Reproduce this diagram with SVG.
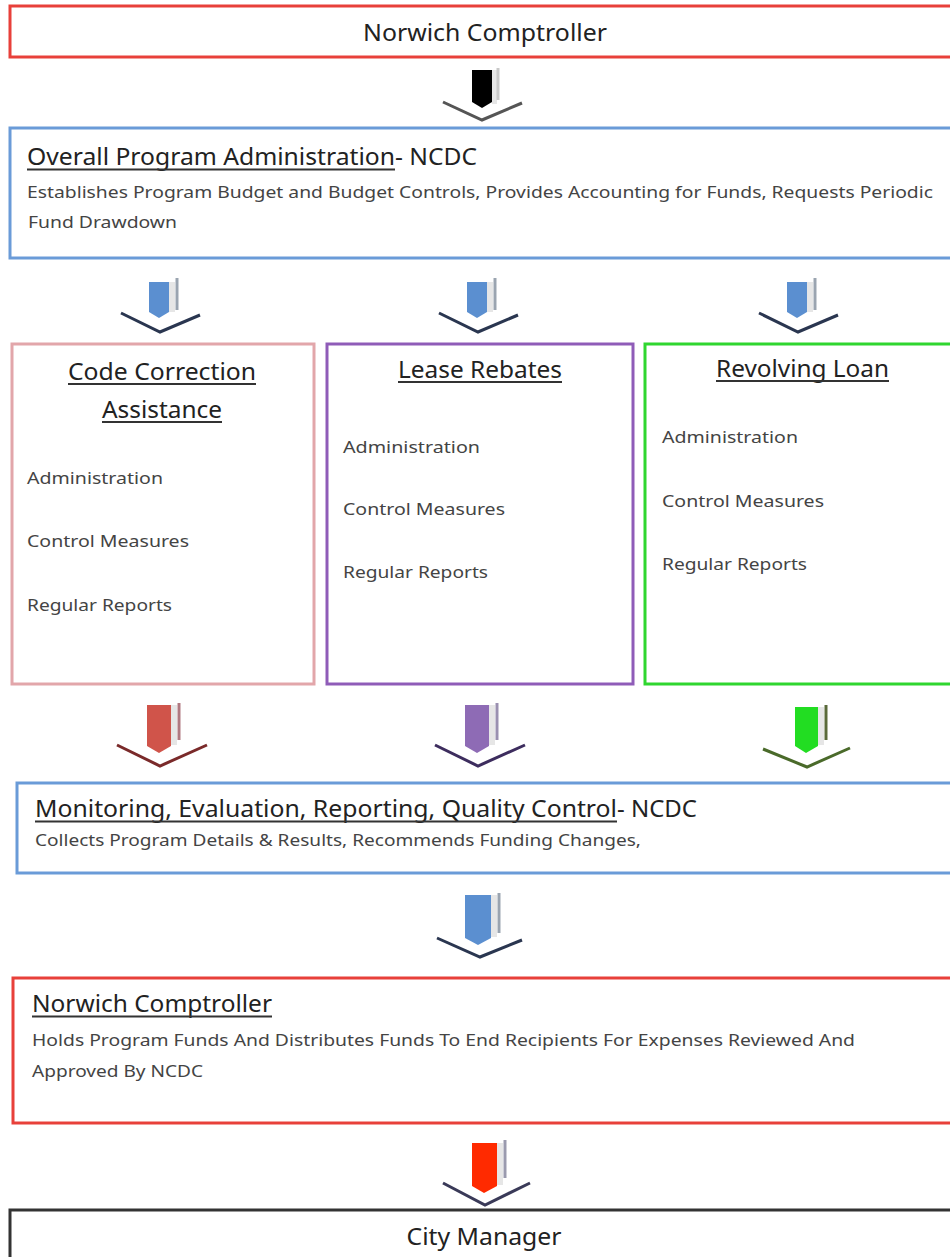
<svg xmlns="http://www.w3.org/2000/svg" width="950" height="1257" viewBox="0 0 950 1257">
<style>
.box{fill:#fff;stroke-width:3}
.red{stroke:#e8403a}
.blue{stroke:#6a9bd8}
.pink{stroke:#e2a6aa}
.purple{stroke:#8f5cb8}
.green{stroke:#2fd62f}
.dark{stroke:#333}
text{font-family:"Noto Sans","Open Sans","Liberation Sans",sans-serif;fill:#222}
.t{font-size:23px}
.h{font-size:23px}
.s{font-size:16px;fill:#444}
.i{font-size:17px;fill:#444}
.ul{stroke:#333;stroke-width:2}
.chev{fill:none;stroke-width:3;stroke-linejoin:miter}
.thin{stroke-width:3}
.side{fill:#e6e6e6}
</style>

<g id="connectors">
  <g id="arrow-top">
    <rect class="side" x="492" y="70" width="5" height="34"/>
    <line class="thin" x1="498" y1="68" x2="498" y2="100" stroke="#c8c8c8"/>
    <polygon points="472,70 492,70 492,102 482,108 472,102" fill="#000"/>
    <polyline class="chev" points="443,102 482,120 522,103" stroke="#555"/>
  </g>
  <g id="arrow-b1">
    <rect class="side" x="169" y="282" width="6" height="30"/>
    <line class="thin" x1="177" y1="278" x2="177" y2="310" stroke="#9aa4b0"/>
    <polygon points="149,282 169,282 169,312 159,318 149,312" fill="#5b8fd0"/>
    <polyline class="chev" points="121,313 160,332 200,315" stroke="#2a3650"/>
  </g>
  <g id="arrow-b2">
    <rect class="side" x="487" y="282" width="6" height="30"/>
    <line class="thin" x1="495" y1="278" x2="495" y2="310" stroke="#9aa4b0"/>
    <polygon points="467,282 487,282 487,312 477,318 467,312" fill="#5b8fd0"/>
    <polyline class="chev" points="439,313 478,332 518,315" stroke="#2a3650"/>
  </g>
  <g id="arrow-b3">
    <rect class="side" x="807" y="282" width="6" height="30"/>
    <line class="thin" x1="815" y1="278" x2="815" y2="310" stroke="#9aa4b0"/>
    <polygon points="787,282 807,282 807,312 797,318 787,312" fill="#5b8fd0"/>
    <polyline class="chev" points="759,313 798,332 838,315" stroke="#2a3650"/>
  </g>
  <g id="arrow-red">
    <rect class="side" x="171" y="705" width="6" height="40"/>
    <line class="thin" x1="179" y1="703" x2="179" y2="740" stroke="#b07880"/>
    <polygon points="147,705 171,705 171,746 159,753 147,746" fill="#d0544a"/>
    <polyline class="chev" points="117,745 160,766 207,745" stroke="#7a2a2a"/>
  </g>
  <g id="arrow-purple">
    <rect class="side" x="489" y="705" width="6" height="40"/>
    <line class="thin" x1="497" y1="703" x2="497" y2="740" stroke="#9a90b0"/>
    <polygon points="465,705 489,705 489,746 477,753 465,746" fill="#8e6bb5"/>
    <polyline class="chev" points="435,745 478,766 525,745" stroke="#3d2d5e"/>
  </g>
  <g id="arrow-green">
    <rect class="side" x="818" y="707" width="6" height="38"/>
    <line class="thin" x1="826" y1="705" x2="826" y2="740" stroke="#5a6a3a"/>
    <polygon points="795,707 818,707 818,746 806,753 795,746" fill="#22dd22"/>
    <polyline class="chev" points="763,749 807,767 850,748" stroke="#4a6a2a"/>
  </g>
  <g id="arrow-b4">
    <rect class="side" x="491" y="895" width="6" height="42"/>
    <line class="thin" x1="499" y1="893" x2="499" y2="933" stroke="#9aa4b0"/>
    <polygon points="465,895 491,895 491,938 478,945 465,938" fill="#5b8fd0"/>
    <polyline class="chev" points="437,938 480,957 522,940" stroke="#2a3650"/>
  </g>
  <g id="arrow-r5">
    <rect class="side" x="497" y="1143" width="6" height="42"/>
    <line class="thin" x1="505" y1="1140" x2="505" y2="1178" stroke="#9a9aae"/>
    <polygon points="472,1143 497,1143 497,1186 484,1193 472,1186" fill="#ff2a00"/>
    <polyline class="chev" points="443,1183 485,1205 530,1183" stroke="#3a3a58"/>
  </g>
</g>

<g id="node-comptroller-top">
  <rect class="box red" x="10" y="6" width="950" height="51"/>
  <text class="t" x="485" y="41" text-anchor="middle" textLength="244" lengthAdjust="spacingAndGlyphs">Norwich Comptroller</text>
</g>

<g id="node-admin">
  <rect class="box blue" x="10" y="128" width="950" height="130"/>
  <text class="h" x="27" y="165" textLength="368" lengthAdjust="spacingAndGlyphs">Overall Program Administration</text>
  <text class="h" x="395" y="165" textLength="82" lengthAdjust="spacingAndGlyphs">- NCDC</text>
  <line class="ul" x1="27" y1="169.5" x2="395" y2="169.5"/>
  <text class="s" x="27" y="198" textLength="906" lengthAdjust="spacingAndGlyphs">Establishes Program Budget and Budget Controls, Provides Accounting for Funds, Requests Periodic</text>
  <text class="s" x="28" y="228" textLength="149" lengthAdjust="spacingAndGlyphs">Fund Drawdown</text>
</g>

<g id="node-code">
  <rect class="box pink" x="12" y="344" width="302" height="340"/>
  <text class="h" x="68" y="380" textLength="188" lengthAdjust="spacingAndGlyphs">Code Correction</text>
  <line class="ul" x1="68" y1="384" x2="256" y2="384"/>
  <text class="h" x="102" y="418" textLength="120" lengthAdjust="spacingAndGlyphs">Assistance</text>
  <line class="ul" x1="102" y1="422" x2="222" y2="422"/>
  <text class="i" x="27" y="484" textLength="136" lengthAdjust="spacingAndGlyphs">Administration</text>
  <text class="i" x="27" y="547" textLength="162" lengthAdjust="spacingAndGlyphs">Control Measures</text>
  <text class="i" x="27" y="611" textLength="145" lengthAdjust="spacingAndGlyphs">Regular Reports</text>
</g>

<g id="node-lease">
  <rect class="box purple" x="327" y="344" width="306" height="340"/>
  <text class="h" x="398" y="378" textLength="164" lengthAdjust="spacingAndGlyphs">Lease Rebates</text>
  <line class="ul" x1="398" y1="382" x2="562" y2="382"/>
  <text class="i" x="343" y="453" textLength="137" lengthAdjust="spacingAndGlyphs">Administration</text>
  <text class="i" x="343" y="515" textLength="162" lengthAdjust="spacingAndGlyphs">Control Measures</text>
  <text class="i" x="343" y="578" textLength="145" lengthAdjust="spacingAndGlyphs">Regular Reports</text>
</g>

<g id="node-revolving">
  <rect class="box green" x="645" y="344" width="320" height="340"/>
  <text class="h" x="716" y="377" textLength="173" lengthAdjust="spacingAndGlyphs">Revolving Loan</text>
  <line class="ul" x1="716" y1="381" x2="889" y2="381"/>
  <text class="i" x="662" y="443" textLength="136" lengthAdjust="spacingAndGlyphs">Administration</text>
  <text class="i" x="662" y="507" textLength="162" lengthAdjust="spacingAndGlyphs">Control Measures</text>
  <text class="i" x="662" y="570" textLength="145" lengthAdjust="spacingAndGlyphs">Regular Reports</text>
</g>

<g id="node-monitoring">
  <rect class="box blue" x="17" y="783" width="950" height="90"/>
  <text class="h" x="35" y="817" textLength="582" lengthAdjust="spacingAndGlyphs">Monitoring, Evaluation, Reporting, Quality Control</text>
  <text class="h" x="617" y="817" textLength="80" lengthAdjust="spacingAndGlyphs">- NCDC</text>
  <line class="ul" x1="35" y1="821.5" x2="617" y2="821.5"/>
  <text class="s" x="35" y="846" textLength="606" lengthAdjust="spacingAndGlyphs">Collects Program Details &amp; Results, Recommends Funding Changes,</text>
</g>

<g id="node-comptroller-funds">
  <rect class="box red" x="13" y="978" width="950" height="145"/>
  <text class="h" x="32" y="1012" textLength="240" lengthAdjust="spacingAndGlyphs">Norwich Comptroller</text>
  <line class="ul" x1="32" y1="1016.5" x2="272" y2="1016.5"/>
  <text class="s" x="32" y="1046" textLength="823" lengthAdjust="spacingAndGlyphs">Holds Program Funds And Distributes Funds To End Recipients For Expenses Reviewed And</text>
  <text class="s" x="32" y="1077" textLength="171" lengthAdjust="spacingAndGlyphs">Approved By NCDC</text>
</g>

<g id="node-city-manager">
  <rect class="box dark" x="10" y="1210" width="950" height="60"/>
  <text class="t" x="484" y="1245" text-anchor="middle" textLength="155" lengthAdjust="spacingAndGlyphs">City Manager</text>
</g>
</svg>
